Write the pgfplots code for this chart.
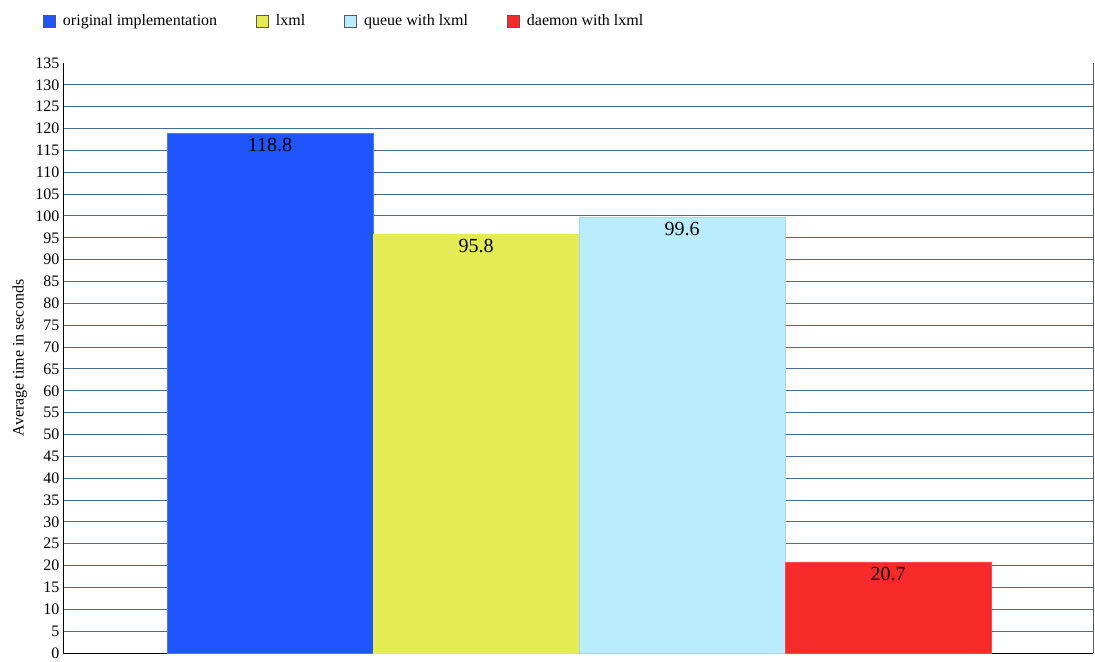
\documentclass[border=0pt]{standalone}
\usepackage{fontspec}
\setmainfont{Liberation Serif}
\usepackage{pgfplots}
\pgfplotsset{compat=1.18}

\definecolor{origblue}{RGB}{31,85,253}
\definecolor{lxmlyellow}{RGB}{229,236,83}
\definecolor{queueblue}{RGB}{185,236,252}
\definecolor{daemonred}{RGB}{247,42,42}
\definecolor{gridblue}{RGB}{74,108,143}

\begin{document}
\begin{tikzpicture}
\path[use as bounding box] (0,0) rectangle (1095bp,662bp);
\begin{axis}[
    at={(63bp,9bp)}, anchor=south west,
    scale only axis,
    width=1030bp, height=590bp,
    xmin=-1.005, xmax=3.995,
    ymin=0, ymax=135,
    ytick={0,5,...,130},
    extra y ticks={135},
    extra y tick style={grid=none},
    xtick=\empty,
    axis x line=bottom, axis y line=left,
    axis line style={-, black, line width=1bp},
    ymajorgrids=true,
    grid style={gridblue, line width=1bp},
    ytick style={draw=none},
    yticklabel style={font=\fontsize{16bp}{18bp}\selectfont, xshift=2bp},
    /pgf/number format/assume math mode=true,
    ylabel={Average time in seconds},
    ylabel style={font=\fontsize{16bp}{18bp}\selectfont, at={(axis description cs:-0.042,0.5)}, anchor=center},
    ybar, bar width=1,
    clip=false,
    nodes near coords,
    nodes near coords align={below},
    every node near coord/.append style={font=\fontsize{20bp}{22bp}\selectfont, black, yshift=-1bp, /pgf/number format/.cd, fixed, fixed zerofill, precision=1},
    legend columns=4,
    legend image code/.code={\draw[#1, draw=black!65, line width=0.8bp] (0bp,-6bp) rectangle (12bp,6bp);},
    legend style={draw=none, fill=none, inner sep=0pt,
        at={(axis description cs:0,1)}, anchor=west, xshift=-20bp, yshift=42bp,
        font=\fontsize{16bp}{18bp}\selectfont,
        nodes={inner sep=0pt},
        /tikz/every odd column/.append style={column sep=7bp},
        /tikz/every even column/.append style={column sep=39bp}},
]
\addplot[fill=origblue, draw=origblue!80!white, line width=0.6bp, bar shift=0pt] coordinates {(0,118.8)};
\addplot[fill=lxmlyellow, draw=lxmlyellow, line width=0.6bp, bar shift=0pt] coordinates {(1,95.8)};
\addplot[fill=queueblue, draw=queueblue!80!gray, line width=0.6bp, bar shift=0pt] coordinates {(2,99.6)};
\addplot[fill=daemonred, draw=daemonred!85!white, line width=0.6bp, bar shift=0pt] coordinates {(3,20.7)};
\legend{original implementation, lxml, queue with lxml, daemon with lxml}
\draw[black!65, line width=1bp] (rel axis cs:1,0) -- (rel axis cs:1,1);
\end{axis}
\end{tikzpicture}
\end{document}
